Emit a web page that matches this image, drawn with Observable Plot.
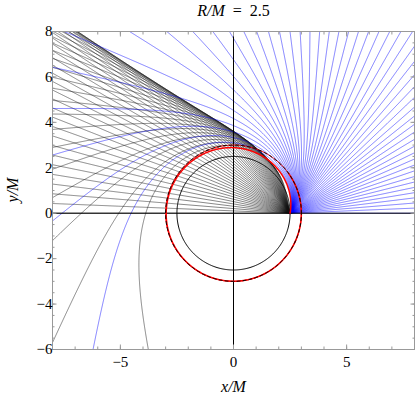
<!DOCTYPE html>
<html><head><meta charset="utf-8">
<script src="https://cdn.jsdelivr.net/npm/d3@7"></script>
<script src="https://cdn.jsdelivr.net/npm/@observablehq/plot@0.6"></script>
<style>body{margin:0;background:#fff}</style>
</head><body><div id="chart"></div>
<script>
// ---- chart values ----
const starRadius = 2.5;      // R/M
const photonSphere = 3;      // r/M of photon sphere
const criticalB = 5.196152;  // critical impact parameter 3*sqrt(3) (red ray)
// impact parameters b/M of rays emitted outward from (R,0) (blue)
const blueB = [0,0.1019,0.2038,0.3057,0.4075,0.5094,0.6113,0.7132,0.8151,0.9170,1.0189,1.1207,1.2226,1.3245,1.4264,1.5283,1.6302,1.7321,1.8339,1.9358,2.0377,2.1396,2.2415,2.3434,2.4452,2.5471,2.6490,2.7509,2.8528,2.9547,3.0566,3.1584,3.2603,3.3622,3.4641,3.5660,3.6679,3.7698,3.8716,3.9735,4.0754,4.1773,4.2792,4.3811,4.4829,4.5848,4.6867,4.7886,4.8905,4.9924,5.0943];
// impact parameters b/M of rays emitted inward from (R,0) through the star (black)
const blackB = [0,0.1019,0.2038,0.3057,0.4075,0.5094,0.6113,0.7132,0.8151,0.9170,1.0189,1.1207,1.2226,1.3245,1.4264,1.5283,1.6302,1.7321,1.8339,1.9358,2.0377,2.1396,2.2415,2.3434,2.4452,2.5471,2.6490,2.7509,2.8528,2.9547,3.0566,3.1584,3.2603,3.3622,3.4641,3.5660,3.6679,3.7698,3.8716,3.9735,4.0754,4.1773,4.2792,4.3811,4.4829,4.5848,4.6867,4.7886,4.8905,4.9924,5.0943];
const xDomain = [-8, 8];
const yDomain = [-6, 8];
const xMajor = [-5, 0, 5];
const xMinor = [-8,-7,-6,-5,-4,-3,-2,-1,0,1,2,3,4,5,6,7,8];
const yMajor = [-6,-4,-2,0,2,4,6,8];
const yMinor = [-6,-5.5,-5,-4.5,-4,-3.5,-3,-2.5,-2,-1.5,-1,-0.5,0,0.5,1,1.5,2,2.5,3,3.5,4,4.5,5,5.5,6,6.5,7,7.5,8];
const titleText = ["R/M", "\u2002=\u20022.5"];
const xLabel = "x/M", yLabel = "y/M";

// ---- null geodesics: Schwarzschild exterior (M=1), de Sitter interior (straight chords) ----
function traceExt(x0, y0, px0, py0, maxPhi) {
  const der = ([x,y,px,py]) => {
    const r = Math.hypot(x,y), xp = x*px + y*py, k = -2/(r*r*r);
    const g = -1/((r-2)*(r-2))/r - 3/(r*r*r*r)*xp*xp/r;
    return [px + k*xp*x, py + k*xp*y, g*x - k*xp*px, g*y - k*xp*py];
  };
  let s = [x0, y0, px0, py0];
  const pts = [];
  let phi = 0, prev = Math.atan2(y0, x0);
  const ds = 0.012;
  for (let i = 0; i < 30000; i++) {
    const d0 = der(s), h = ds/Math.hypot(d0[0], d0[1]);
    const k1 = d0, k2 = der(s.map((v,j)=>v+0.5*h*k1[j])), k3 = der(s.map((v,j)=>v+0.5*h*k2[j])), k4 = der(s.map((v,j)=>v+h*k3[j]));
    s = s.map((v,j)=>v + h/6*(k1[j]+2*k2[j]+2*k3[j]+k4[j]));
    const a = Math.atan2(s[1], s[0]); let dA = a - prev; if (dA > Math.PI) dA -= 2*Math.PI; if (dA < -Math.PI) dA += 2*Math.PI; phi += dA; prev = a;
    if (i % 2 === 0) pts.push([s[0], s[1]]);
    if (Math.hypot(s[0], s[1]) < 2.05) break;
    if (s[0] < -8.4 || s[0] > 8.4 || s[1] > 8.4 || s[1] < -6.4) { pts.push([s[0], s[1]]); break; }
    if (maxPhi && phi > maxPhi) break;
  }
  return pts;
}
const R = starRadius, R3 = R*R*R, AR = 1 - 2/R, sR = Math.sqrt(AR);
function outwardMomentum(phiE, b) {
  const se = b*sR/R, ce = Math.sqrt(Math.max(0, 1 - se*se));
  const pr = ce/AR, pt = se/sR;
  return [pr*Math.cos(phiE) - pt*Math.sin(phiE), pr*Math.sin(phiE) + pt*Math.cos(phiE)];
}
function emitOut(b, maxPhi) {
  const [px, py] = outwardMomentum(0, b);
  return [[R,0], ...traceExt(R, 0, px, py, maxPhi)];
}
function emitIn(b) {
  // interior: straight chord at distance b' = 1/sqrt(1/b^2 + 2M/R^3) from the centre
  const bp = b > 0 ? 1/Math.sqrt(1/(b*b) + 2/R3) : 0;
  const phiE = Math.PI - 2*Math.asin(bp/R);
  const xe = R*Math.cos(phiE), ye = R*Math.sin(phiE);
  const [px, py] = outwardMomentum(phiE, b);
  return [[R,0], [xe, ye], ...traceExt(xe, ye, px, py)];
}

const blueRays = blueB.flatMap((b, id) => emitOut(b).map(([x,y]) => ({x, y, id})));
const blackRays = blackB.flatMap((b, id) => emitIn(b).map(([x,y]) => ({x, y, id})));
const criticalRay = emitOut(criticalB, 2.2*Math.PI).map(([x,y]) => ({x, y}));
const circleAngles = d3.range(0, 361, 1);
const starCircle = circleAngles.map(t => ({x: starRadius*Math.cos(t*Math.PI/180), y: starRadius*Math.sin(t*Math.PI/180)}));
const photonCircle = circleAngles.map(t => ({x: photonSphere*Math.cos(t*Math.PI/180), y: photonSphere*Math.sin(t*Math.PI/180)}));

const frameGray = "#999";
const serif = "'Liberation Serif', 'DejaVu Serif', serif";
const fmt = d => d < 0 ? "\u2212" + (-d) : String(d);

const plot = Plot.plot({
  width: 415, height: 401,
  marginLeft: 52, marginRight: 1, marginTop: 31, marginBottom: 52,
  x: {domain: xDomain},
  y: {domain: yDomain},
  style: {fontFamily: serif, fontSize: "15px", background: "white"},
  marks: [
    Plot.line(blackRays, {x: "x", y: "y", z: "id", stroke: "#111", strokeWidth: 0.5, clip: true}),
    Plot.line(blueRays, {x: "x", y: "y", z: "id", stroke: "#0000ff", strokeWidth: 0.5, clip: true}),
    Plot.ruleY([0], {stroke: "black", strokeWidth: 1}),
    Plot.ruleX([0], {stroke: "black", strokeWidth: 1}),
    Plot.line(starCircle, {x: "x", y: "y", stroke: "black", strokeWidth: 1}),
    Plot.line(photonCircle, {x: "x", y: "y", stroke: "red", strokeWidth: 1}),
    Plot.line(criticalRay, {x: "x", y: "y", stroke: "red", strokeWidth: 1.5, clip: true}),
    Plot.line(photonCircle, {x: "x", y: "y", stroke: "black", strokeWidth: 1, strokeDasharray: "3,3"}),
    Plot.frame({stroke: frameGray}),
    Plot.axisX(xMinor, {anchor: "bottom", tickSize: -2.5, text: null, stroke: frameGray, label: null}),
    Plot.axisX(xMajor, {anchor: "bottom", tickSize: -4.5, tickPadding: 11, tickFormat: fmt, stroke: frameGray, fill: "black", label: null}),
    Plot.axisX(xMinor, {anchor: "top", tickSize: -2.5, text: null, stroke: frameGray, label: null}),
    Plot.axisX(xMajor, {anchor: "top", tickSize: -4.5, text: null, stroke: frameGray, label: null}),
    Plot.axisY(yMinor, {anchor: "left", tickSize: -2.5, text: null, stroke: frameGray, label: null}),
    Plot.axisY(yMajor, {anchor: "left", tickSize: -4.5, tickPadding: 4.5, tickFormat: fmt, stroke: frameGray, fill: "black", label: null}),
    Plot.axisY(yMinor, {anchor: "right", tickSize: -2.5, text: null, stroke: frameGray, label: null}),
    Plot.axisY(yMajor, {anchor: "right", tickSize: -4.5, text: null, stroke: frameGray, label: null})
  ]
});
document.getElementById("chart").appendChild(plot);

const svg = d3.select(plot);
const t = svg.append("text").attr("x", 233.5).attr("y", 15.5).attr("text-anchor", "middle")
  .style("font-family", serif).style("font-size", "16px");
t.append("tspan").style("font-style", "italic").text(titleText[0]);
t.append("tspan").text(titleText[1]);
svg.append("text").attr("x", 233.5).attr("y", 392).attr("text-anchor", "middle")
  .style("font-family", serif).style("font-size", "16px").style("font-style", "italic").text(xLabel);
svg.append("text").attr("transform", "translate(18,190) rotate(-90)").attr("text-anchor", "middle")
  .style("font-family", serif).style("font-size", "16px").style("font-style", "italic").text(yLabel);
</script></body></html>
